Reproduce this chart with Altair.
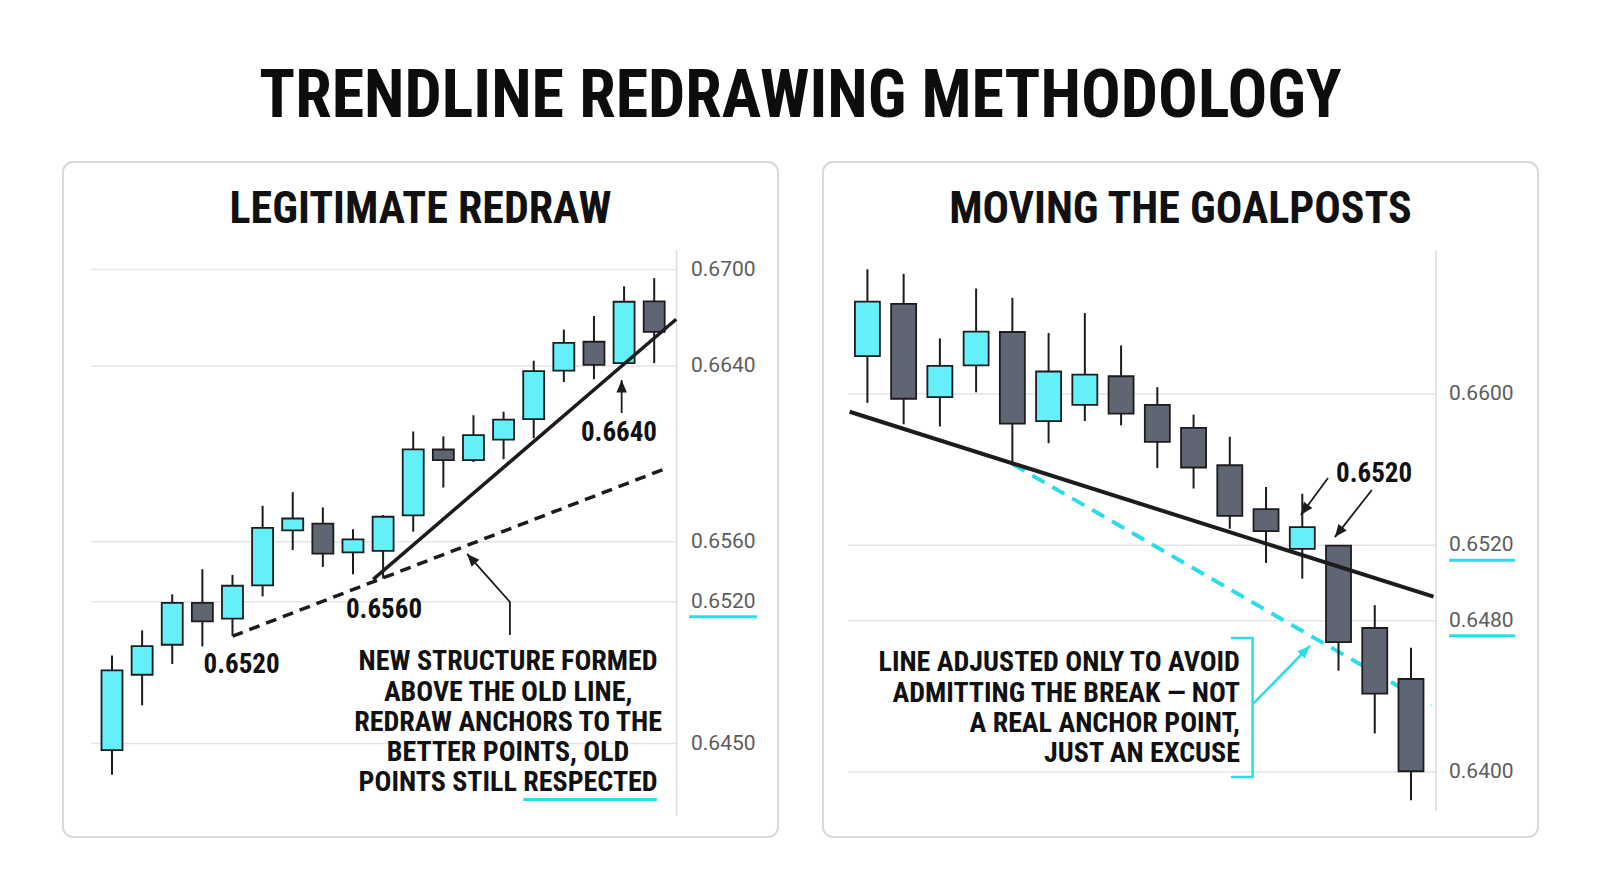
import altair as alt
import pandas as pd

# ---------------- text ----------------
TITLE = "TRENDLINE REDRAWING METHODOLOGY"
LEFT_TITLE = "LEGITIMATE REDRAW"
RIGHT_TITLE = "MOVING THE GOALPOSTS"
LEFT_NOTE = "NEW STRUCTURE FORMED\nABOVE THE OLD LINE,\nREDRAW ANCHORS TO THE\nBETTER POINTS, OLD\nPOINTS STILL RESPECTED"
RIGHT_NOTE = "LINE ADJUSTED ONLY TO AVOID\nADMITTING THE BREAK \u2014 NOT\nA REAL ANCHOR POINT,\nJUST AN EXCUSE"

# ---------------- left panel candles ----------------
left_open = [0.64468, 0.64840, 0.64988, 0.65195, 0.65117, 0.65310, 0.65652, 0.65683, 0.65529, 0.65540,
             0.65720, 0.66020, 0.65972, 0.66065, 0.66158, 0.66379, 0.66551, 0.66418, 0.66802]
left_close = [0.64861, 0.64981, 0.65195, 0.65103, 0.65307, 0.65663, 0.65706, 0.65521, 0.65611, 0.65714,
              0.66021, 0.65972, 0.66085, 0.66156, 0.66377, 0.66544, 0.66407, 0.66800, 0.66613]
left_high = [0.64935, 0.65059, 0.65250, 0.65417, 0.65379, 0.65764, 0.65826, 0.65756, 0.65657, 0.65722,
             0.66102, 0.66080, 0.66176, 0.66192, 0.66433, 0.66627, 0.66711, 0.66896, 0.66947]
left_low = [0.64346, 0.64689, 0.64893, 0.64980, 0.65032, 0.65236, 0.65545, 0.65433, 0.65383, 0.65355,
            0.65646, 0.65847, 0.65963, 0.65976, 0.66072, 0.66327, 0.66340, 0.66418, 0.66418]
left_ticks = [0.6450, 0.6520, 0.6560, 0.6640, 0.6700]
left_tick_labels = ["0.6450", "0.6520", "0.6560", "0.6640", "0.6700"]
left_marked = [0.6520]

# trendlines (bar index, price)
left_new_x = [9.67, 19.73]
left_new_y = [0.6535, 0.66691]
left_old_x = [5.0, 19.37]
left_old_y = [0.6503, 0.65933]

# annotation labels
left_lab_text = ["0.6640", "0.6560", "0.6520"]
left_lab_x = [17.83, 10.03, 5.30]
left_lab_y = [0.66095, 0.65160, 0.64888]
left_note_x = 14.15
left_note_y = 0.64862
left_underline_x = [14.65, 19.09]
left_underline_y = 0.64224
# arrows: (id, x list, y list, head angle)
left_arrows = [
    ("a", [17.92, 17.92], [0.66186, 0.66336], 0),
    ("b", [14.21, 14.21, 12.79], [0.65036, 0.65199, 0.65519], 318),
]

# ---------------- right panel candles ----------------
right_open = [0.66200, 0.66477, 0.65983, 0.66151, 0.66328, 0.65857, 0.65942, 0.66094, 0.65942, 0.65821,
              0.65623, 0.65391, 0.65181, 0.65198, 0.64762, 0.64492]
right_close = [0.66489, 0.65975, 0.66149, 0.66330, 0.65843, 0.66119, 0.66102, 0.65896, 0.65747, 0.65611,
               0.65355, 0.65275, 0.65296, 0.64687, 0.64415, 0.64004]
right_high = [0.66660, 0.66636, 0.66294, 0.66558, 0.66509, 0.66323, 0.66428, 0.66257, 0.66036, 0.65891,
              0.65774, 0.65508, 0.65472, 0.65198, 0.64883, 0.64658]
right_low = [0.65953, 0.65840, 0.65828, 0.66009, 0.65630, 0.65740, 0.65857, 0.65834, 0.65608, 0.65500,
             0.65287, 0.65106, 0.65023, 0.64536, 0.64204, 0.63851]
right_ticks = [0.6400, 0.6480, 0.6520, 0.6600]
right_tick_labels = ["0.6400", "0.6480", "0.6520", "0.6600"]
right_marked = [0.6480, 0.6520]

right_real_x = [0.51, 16.62]
right_real_y = [0.65906, 0.64928]
right_adj_x = [5.0, 16.56]
right_adj_y = [0.6563, 0.64353]

right_lab_text = ["0.6520"]
right_lab_x = [14.98]
right_lab_y = [0.65577]
right_note_x = 11.28
right_note_y = 0.64532
right_arrows = [
    ("a", [13.71, 12.96], [0.65556, 0.65360], 216),
    ("b", [14.92, 13.90], [0.65492, 0.65243], 218),
]
right_cyan_arrow = ("c", [11.64, 13.21], [0.64360, 0.64667], 44.5)
right_bracket_x = [11.03, 11.63, 11.63, 11.03]
right_bracket_y = [0.64709, 0.64709, 0.63974, 0.63974]

# ---------------- styles ----------------
CYAN = "#64EFF9"
CYAN_LINE = "#2DDCE8"
GRAY = "#5F6573"
INK = "#1c1c1c"
GRID = "#e5e5e5"
COND = "Liberation Sans Narrow, Roboto Condensed, Arial Narrow, DejaVu Sans Condensed, sans-serif"
CARD_W, CARD_H = 715, 675
ARROW = "M0,0L-0.42,1L0.42,1Z"


def candles_df(o, c, h, l):
    return pd.DataFrame({
        "i": list(range(1, len(o) + 1)), "open": o, "close": c, "high": h, "low": l,
        "dir": ["up" if cc >= oo else "down" for oo, cc in zip(o, c)],
    })


def path_df(xs, ys, name="p"):
    return pd.DataFrame({"x": xs, "y": ys, "id": [name] * len(xs), "o": list(range(len(xs)))})


def line_layer(df, color, width, dash, X, Y):
    kw = dict(color=color, strokeWidth=width, strokeCap="butt")
    if dash:
        kw["strokeDash"] = dash
    return alt.Chart(df).mark_line(**kw).encode(x=X("x:Q"), y=Y("y:Q"), detail="id:N", order="o:Q")


def panel(cdf, xs, ys, ticks, tick_labels, marked, grid_x, axis_y, label_x, under_x, body_w,
          lines, arrow_layers, labels, note, note_align, extra, title):
    X = lambda f: alt.X(f, scale=xs, axis=None)
    Y = lambda f: alt.Y(f, scale=ys, axis=None)
    layers = []
    tdf = pd.DataFrame({"p": ticks, "lab": tick_labels})
    layers.append(alt.Chart(tdf).mark_rule(color=GRID, strokeWidth=1.5).encode(
        y=Y("p:Q"), x=alt.value(grid_x[0]), x2=alt.value(grid_x[1])))
    layers.append(alt.Chart(pd.DataFrame({"p": [0]})).mark_rule(color="#dddddd", strokeWidth=1.5).encode(
        x=alt.value(grid_x[1]), y=alt.value(axis_y[0]), y2=alt.value(axis_y[1])))
    layers.append(alt.Chart(tdf).mark_text(align="left", baseline="middle", font="Roboto", fontSize=21,
                                           color="#5c5c5c").encode(
        y=Y("p:Q"), x=alt.value(label_x), text="lab:N"))
    layers.append(alt.Chart(pd.DataFrame({"p": marked})).mark_rule(color=CYAN_LINE, strokeWidth=3,
                                                                   yOffset=15).encode(
        y=Y("p:Q"), x=alt.value(under_x[0]), x2=alt.value(under_x[1])))
    for df, color, width, dash in lines:
        layers.append(line_layer(df, color, width, dash, X, Y))
    # candles
    layers.append(alt.Chart(cdf).mark_rule(color=INK, strokeWidth=2).encode(
        x=X("i:Q"), y=Y("high:Q"), y2="low:Q"))
    layers.append(alt.Chart(cdf).mark_bar(size=body_w, stroke=INK, strokeWidth=1.8).encode(
        x=X("i:Q"), y=Y("open:Q"), y2="close:Q",
        fill=alt.Fill("dir:N", scale=alt.Scale(domain=["up", "down"], range=[CYAN, GRAY]), legend=None)))
    for df, color, width, dash in extra:
        layers.append(line_layer(df, color, width, dash, X, Y))
    # arrows
    for arr_list, color, width in arrow_layers:
        shafts = pd.concat([path_df(a[1], a[2], a[0]) for a in arr_list])
        heads = pd.DataFrame({"x": [a[1][-1] for a in arr_list], "y": [a[2][-1] for a in arr_list],
                              "ang": [a[3] for a in arr_list]})
        layers.append(alt.Chart(shafts).mark_line(color=color, strokeWidth=width).encode(
            x=X("x:Q"), y=Y("y:Q"), detail="id:N", order="o:Q"))
        layers.append(alt.Chart(heads).mark_point(shape=ARROW, filled=True, size=620, color=color,
                                                 opacity=1).encode(
            x=X("x:Q"), y=Y("y:Q"), angle=alt.Angle("ang:Q", scale=None)))
    layers.append(alt.Chart(labels).mark_text(font=COND, fontWeight="bold", fontSize=27, color="#111111",
                                              align="center", baseline="middle").encode(
        x=X("x:Q"), y=Y("y:Q"), text="t:N"))
    layers.append(alt.Chart(note).mark_text(font=COND, fontWeight="bold", fontSize=28, color="#111111",
                                            align=note_align, baseline="alphabetic", lineBreak="\n",
                                            lineHeight=30.3).encode(
        x=X("x:Q"), y=Y("y:Q"), text="t:N"))
    layers.append(alt.Chart(pd.DataFrame({"t": [title]})).mark_text(
        font=COND, fontWeight="bold", fontSize=44, color="#111111", align="center",
        baseline="alphabetic").encode(x=alt.value(CARD_W / 2), y=alt.value(61), text="t:N"))
    return alt.layer(*layers).properties(width=CARD_W, height=CARD_H)


# ---------------- left ----------------
lxs = alt.Scale(domain=[1, 19], range=[49, 591.2], nice=False, zero=False, padding=0)
lys = alt.Scale(domain=left_ticks, range=[581.6, 439.8, 379.8, 204, 107.6], nice=False, zero=False)
left = panel(
    candles_df(left_open, left_close, left_high, left_low), lxs, lys,
    left_ticks, left_tick_labels, left_marked,
    grid_x=(28, 613.5), axis_y=(88, 654), label_x=628, under_x=(626, 694), body_w=21,
    lines=[(path_df(left_old_x, left_old_y), INK, 3.5, [11, 7])],
    arrow_layers=[(left_arrows, INK, 1.8)],
    labels=pd.DataFrame({"t": left_lab_text, "x": left_lab_x, "y": left_lab_y}),
    note=pd.DataFrame({"t": [LEFT_NOTE], "x": [left_note_x], "y": [left_note_y]}),
    note_align="center",
    extra=[(path_df(left_new_x, left_new_y), INK, 3.5, None),
           (path_df(left_underline_x, [left_underline_y, left_underline_y]), CYAN_LINE, 3, None)],
    title=LEFT_TITLE,
)

# ---------------- right ----------------
rxs = alt.Scale(domain=[1, 16], range=[44.4, 588], nice=False, zero=False, padding=0)
rys = alt.Scale(domain=[0.6400, 0.6600], range=[610, 232], nice=False, zero=False)
right = panel(
    candles_df(right_open, right_close, right_high, right_low), rxs, rys,
    right_ticks, right_tick_labels, right_marked,
    grid_x=(25, 613), axis_y=(88, 649), label_x=626, under_x=(626, 692), body_w=25,
    lines=[(path_df(right_adj_x, right_adj_y), CYAN_LINE, 4, [14, 9])],
    arrow_layers=[(right_arrows, INK, 1.8), ([right_cyan_arrow], CYAN_LINE, 2.5)],
    labels=pd.DataFrame({"t": right_lab_text, "x": right_lab_x, "y": right_lab_y}),
    note=pd.DataFrame({"t": [RIGHT_NOTE], "x": [right_note_x], "y": [right_note_y]}),
    note_align="right",
    extra=[(path_df(right_real_x, right_real_y), INK, 4, None),
           (path_df(right_bracket_x, right_bracket_y), CYAN_LINE, 2.5, None)],
    title=RIGHT_TITLE,
)

chart = alt.hconcat(left, right, spacing=43).properties(
    title=alt.TitleParams(TITLE, font=COND, fontSize=66, fontWeight="bold", color="#0d0d0d",
                          anchor="middle", offset=30),
    padding={"left": 54, "top": 56, "right": 10, "bottom": 10},
    background="white",
).configure_view(stroke="#d9d9d9", strokeWidth=2, cornerRadius=10)

chart.save("out.html", embed_options={"renderer": "svg", "actions": False})
